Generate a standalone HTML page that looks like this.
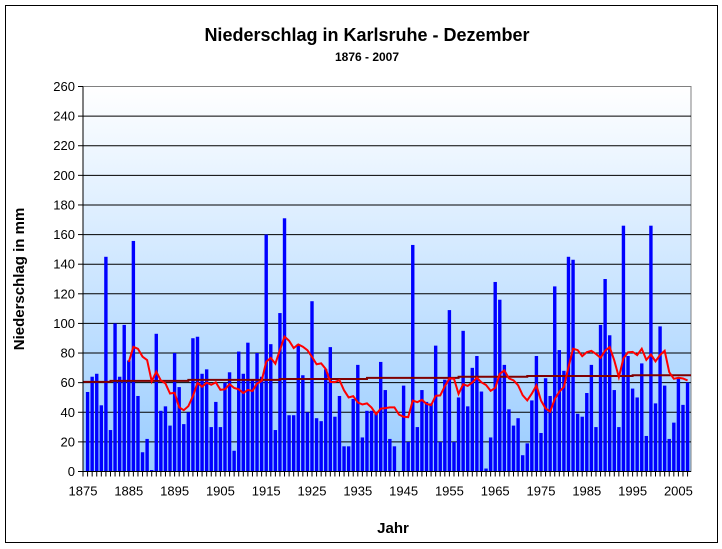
<!DOCTYPE html>
<html><head><meta charset="utf-8"><style>
html,body{margin:0;padding:0;background:#fff;}
svg{display:block;font-family:"Liberation Sans",Arial,sans-serif;}
</style></head><body>
<svg id="s" width="722" height="549" xmlns="http://www.w3.org/2000/svg">
<defs><linearGradient id="g" x1="0" y1="0" x2="0" y2="1">
<stop offset="0" stop-color="#ffffff"/><stop offset="1" stop-color="#99ccff"/></linearGradient>
<clipPath id="c"><rect x="83" y="86" width="608" height="386"/></clipPath></defs>
<rect x="5.5" y="5.5" width="712" height="537" fill="#fff" stroke="#000" stroke-width="1"/>
<text x="367" y="41" text-anchor="middle" font-size="18" font-weight="bold">Niederschlag in Karlsruhe - Dezember</text>
<text x="367" y="61" text-anchor="middle" font-size="12" font-weight="bold">1876 - 2007</text>
<rect x="83" y="86.5" width="608" height="385" fill="url(#g)" stroke="#808080" stroke-width="1"/>
<g id="grid"></g><g id="bars"></g><g id="lines" clip-path="url(#c)"></g><g id="axes"></g>
<text x="393" y="533" text-anchor="middle" font-size="15" font-weight="bold">Jahr</text>
<text transform="translate(24,279) rotate(-90)" text-anchor="middle" font-size="15" font-weight="bold">Niederschlag in mm</text>
</svg>
<script>
var d=[53.7,64,66,44.7,145,28,100,64,99,75,155.7,51,13,22,1,93,41,44,31,80,57,32,40,90,91,66,69,30,47,30,
60,67,14,81,66,87,62,80,64,160,86,28,107,171,38,38,86,65,40,115,36,34,69,84,37,51,17,17,49,72,23,41,41,39,74,
55,22,17,0,58,20,153,30,55,47,46,85,20,62,109,20,50,95,44,70,78,54,2,23,128,116,72,42,31,36,11,19,
48,78,26,63,51,125,82,68,145,143,39,37,53,72,30,99,130,92,55,30,166,78,56,50,73,24,166,46,98,58,22,33,63,45,60];
var NS="http://www.w3.org/2000/svg",X0=83,st=4.58,Y0=471.5,k=385/260;
function el(p,t,a,txt){var e=document.createElementNS(NS,t);for(var i in a)e.setAttribute(i,a[i]);if(txt!=null)e.textContent=txt;document.getElementById(p).appendChild(e);return e;}
function Y(v){return Y0-v*k;}
for(var v=20;v<=240;v+=20)el("grid","line",{x1:X0,x2:691,y1:Y(v),y2:Y(v),stroke:"#000","stroke-width":1});
for(var i=0;i<d.length;i++){var cx=X0+(i+1)*st;el("bars","rect",{x:cx-1.7,y:Y(d[i]),width:3.4,height:d[i]*k,fill:"#0000ff"});}
var steps=[[1875,60.5],[1881,61.2],[1898,61.9],[1918,62.5],[1937,63.2],[1957,64],[1972,64.5],[1995,65],[2009,65]];
var p="";for(var j=0;j<steps.length-1;j++){var xa=X0+(steps[j][0]-1875)*st,xb=X0+(steps[j+1][0]-1875)*st;p+=(j?"L":"M")+xa+","+Y(steps[j][1])+"L"+xb+","+Y(steps[j][1]);}
el("lines","path",{d:p,fill:"none",stroke:"#800000","stroke-width":2});
var q="";for(var i=9;i<d.length;i++){var s=0;for(var m=i-9;m<=i;m++)s+=d[m];q+=(i==9?"M":"L")+(X0+(i+1)*st)+","+Y(s/10);}
el("lines","path",{d:q,fill:"none",stroke:"#ff0000","stroke-width":2});
el("axes","line",{x1:X0,x2:X0,y1:86.5,y2:Y0,stroke:"#000"});
el("axes","line",{x1:X0,x2:691,y1:Y0,y2:Y0,stroke:"#000"});
for(var v=0;v<=260;v+=20){el("axes","line",{x1:X0-5,x2:X0,y1:Y(v),y2:Y(v),stroke:"#000"});el("axes","text",{x:X0-8,y:Y(v)+4.5,"text-anchor":"end","font-size":13},v);}
for(var t=0;t<=132;t++){var x=X0+t*st;el("axes","line",{x1:x,x2:x,y1:Y0,y2:Y0+5,stroke:"#000"});if(t%10==0)el("axes","text",{x:x,y:Y0+24,"text-anchor":"middle","font-size":13},1875+t);}
</script>
</body></html>
